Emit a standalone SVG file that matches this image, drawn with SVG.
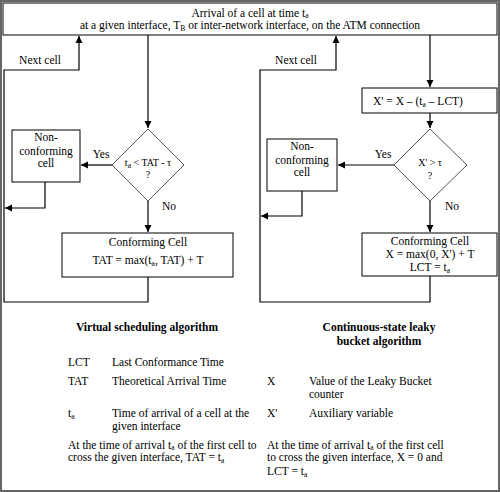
<svg xmlns="http://www.w3.org/2000/svg" width="500" height="492" viewBox="0 0 500 492" font-family="Liberation Serif" font-size="11.5">
<defs>
<marker id="ah" markerWidth="8" markerHeight="8" refX="7" refY="4" orient="auto" markerUnits="userSpaceOnUse">
<path d="M0,0.5 L7,4 L0,7.5 Z" fill="#000"/>
</marker>
<style>
text{font-family:"Liberation Serif",serif}
.c{text-anchor:middle}
.b{font-weight:bold}
.box{fill:#fff;stroke:#000;stroke-width:1}
.dia{fill:#fff;stroke:#555;stroke-width:1}
.ln{fill:none;stroke:#000;stroke-width:1.2}
.s{font-size:7.5px}
.sm{font-size:10px}
</style>
</defs>
<rect x="0" y="0" width="500" height="492" fill="#fff"/>
<rect x="1" y="1" width="498" height="490" fill="none" stroke="#666" stroke-width="2"/>
<g id="connectors">
<path class="ln" d="M148,35 V128" marker-end="url(#ah)"/>
<path class="ln" d="M430,35 V87" marker-end="url(#ah)"/>
<path class="ln" d="M430,113 V128" marker-end="url(#ah)"/>
<path class="ln" d="M112,165 H81" marker-end="url(#ah)"/>
<path class="ln" d="M394,165 H338" marker-end="url(#ah)"/>
<path class="ln" d="M148,201 V232" marker-end="url(#ah)"/>
<path class="ln" d="M430,201 V232" marker-end="url(#ah)"/>
<path class="ln" d="M45,182 V208 H5" marker-end="url(#ah)"/>
<path class="ln" d="M302,191 V216 H261" marker-end="url(#ah)"/>
<path class="ln" d="M148,277 V302 H4 V70 H79 V36" marker-end="url(#ah)"/>
<path class="ln" d="M430,276 V302 H260 V70 H336 V36" marker-end="url(#ah)"/>
<text x="40" y="64" class="c">Next cell</text>
<text x="296" y="64" class="c">Next cell</text>
<text x="101" y="158" class="c">Yes</text>
<text x="383" y="158" class="c">Yes</text>
<text x="169" y="210" class="c">No</text>
<text x="452" y="210" class="c">No</text>
</g>

<g id="top">
<rect class="box" x="3" y="3" width="494" height="32"/>
<text x="250" y="16.5" class="c">Arrival of a cell at time t<tspan class="s" dy="1.5">a</tspan></text>
<text x="250" y="29" class="c">at a given interface, T<tspan class="s" dy="1.5">B</tspan><tspan dy="-1.5"> or inter-network interface, on the ATM connection</tspan></text>
</g>

<g id="diamond-left">
<polygon class="dia" points="148,129 184,165 148,201 112,165"/>
<text x="148" y="166" class="c sm">t<tspan class="s" dy="1.5">a</tspan><tspan dy="-1.5"> &lt; TAT - τ</tspan></text>
<text x="148" y="178" class="c sm">?</text>
</g>

<g id="nonconf-left">
<rect class="box" x="12" y="130" width="68" height="52"/>
<text x="46" y="141" class="c">Non-</text>
<text x="46" y="155" class="c">conforming</text>
<text x="46" y="167" class="c">cell</text>
</g>

<g id="conf-left">
<rect class="box" x="62" y="233" width="171" height="44"/>
<text x="148" y="246" class="c">Conforming Cell</text>
<text x="148" y="264" class="c">TAT = max(t<tspan class="s" dy="1.5">a</tspan><tspan dy="-1.5">, TAT) + T</tspan></text>
</g>

<g id="xprime">
<rect class="box" x="362" y="88" width="135" height="25"/>
<text x="418" y="105" class="c">X' = X – (t<tspan class="s" dy="1.5">a</tspan><tspan dy="-1.5"> – LCT)</tspan></text>
</g>

<g id="diamond-right">
<polygon class="dia" points="430,129 467,165 430,201 394,165"/>
<text x="430" y="166" class="c sm">X' &gt; τ</text>
<text x="430" y="179" class="c sm">?</text>
</g>

<g id="nonconf-right">
<rect class="box" x="267" y="139" width="70" height="52"/>
<text x="302" y="150" class="c">Non-</text>
<text x="302" y="164" class="c">conforming</text>
<text x="302" y="176" class="c">cell</text>
</g>

<g id="conf-right">
<rect class="box" x="362" y="233" width="135" height="43"/>
<text x="430" y="245" class="c">Conforming Cell</text>
<text x="430" y="258" class="c">X = max(0, X') + T</text>
<text x="430" y="271" class="c">LCT = t<tspan class="s" dy="1.5">a</tspan></text>
</g>

<g id="legend">
<text x="147" y="331" class="c b">Virtual scheduling algorithm</text>
<text x="379" y="331" class="c b">Continuous-state leaky</text>
<text x="379" y="345" class="c b">bucket algorithm</text>
<text x="68" y="366">LCT</text>
<text x="112" y="366">Last Conformance Time</text>
<text x="68" y="385">TAT</text>
<text x="112" y="385">Theoretical Arrival Time</text>
<text x="267" y="385">X</text>
<text x="309" y="385">Value of the Leaky Bucket</text>
<text x="309" y="398">counter</text>
<text x="68" y="417">t<tspan class="s" dy="1.5">a</tspan></text>
<text x="112" y="417">Time of arrival of a cell at the</text>
<text x="112" y="430">given interface</text>
<text x="267" y="417">X'</text>
<text x="309" y="417">Auxiliary variable</text>
<text x="68" y="448.5">At the time of arrival t<tspan class="s" dy="1.5">a</tspan><tspan dy="-1.5"> of the first cell to</tspan></text>
<text x="68" y="461">cross the given interface, TAT = t<tspan class="s" dy="1.5">a</tspan></text>
<text x="267" y="448.5">At the time of arrival t<tspan class="s" dy="1.5">a</tspan><tspan dy="-1.5"> of the first cell</tspan></text>
<text x="267" y="461">to cross the given interface, X = 0 and</text>
<text x="267" y="475">LCT = t<tspan class="s" dy="1.5">a</tspan></text>
</g>
</svg>
